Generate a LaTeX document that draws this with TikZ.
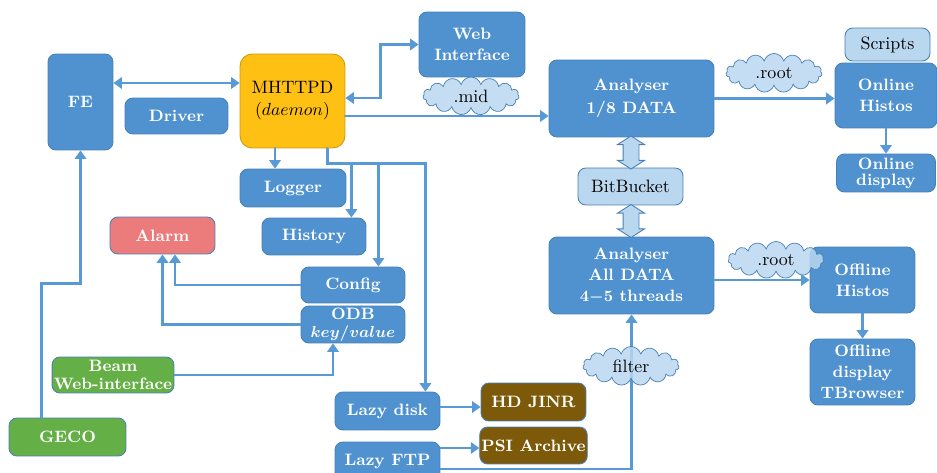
\documentclass[tikz,border=0pt]{standalone}
\usetikzlibrary{arrows.meta,shapes.symbols,shapes.arrows}

\definecolor{boxblue}{RGB}{79,146,207}
\definecolor{boxedge}{RGB}{72,128,182}
\definecolor{linkblue}{RGB}{88,154,214}
\definecolor{paleblue}{RGB}{186,215,240}
\definecolor{daemongold}{RGB}{254,192,18}
\definecolor{alarmred}{RGB}{236,124,124}
\definecolor{beamgreen}{RGB}{100,175,70}
\definecolor{archbrown}{RGB}{125,90,10}

\newcommand\boxtext{\fontsize{9.4}{12}\selectfont\bfseries\boldmath}
\newcommand\cloudtext{\fontsize{10.2}{12.5}\selectfont}

\begin{document}
\begin{tikzpicture}
  [x=0.02cm,y=-0.02cm,line cap=round,
   % Styles
   dims/.style 2 args={minimum width=#1cm,minimum height=#2cm},
   main box/.style={rectangle,rounded corners=4.5pt,fill=boxblue,draw=boxedge,
     line width=0.5pt,text=white,align=center,inner sep=1pt,font=\boxtext},
   light box/.style={main box,fill=paleblue,text=black,font=\cloudtext},
   data cloud/.style={cloud,cloud puffs=15,aspect=3.2,draw=boxedge,line width=0.4pt,
     fill=paleblue,fill opacity=0.85,text opacity=1,text=black,font=\cloudtext,inner sep=0pt},
   fat arrow/.style={double arrow,shape border rotate=90,fill=paleblue,draw=boxedge,
     line width=0.5pt,inner sep=0.15cm,minimum height=0.66cm,
     double arrow head extend=0.11cm,double arrow tip angle=115},
   link/.style={draw=linkblue,line width=1.6pt,>={Triangle[length=1.7mm,width=2.3mm]}}]

  \useasboundingbox (0,0) rectangle (937,473);

  % Front end and daemon
  \node[main box,dims={1.30}{1.92}] (fe) at (80.5,102) {FE};
  \node[main box,dims={2.06}{0.72}] (driver) at (176.5,116) {Driver};
  \node[main box,fill=daemongold,draw=daemongold!80!black,text=black,font=\cloudtext,
    rounded corners=7pt,dims={2.10}{1.88}] (mhttpd) at (292.5,101) {MHTTPD\\$(daemon)$};
  \node[main box,dims={2.12}{0.76}] (logger) at (293,188) {Logger};
  \node[main box,dims={2.08}{0.74}] (history) at (314,236.5) {History};
  \node[main box,fill=alarmred,dims={2.10}{0.74}] (alarm) at (162.5,235.5) {Alarm};
  \node[main box,dims={2.08}{0.72}] (config) at (353,285) {Config};
  \node[main box,dims={2.08}{0.74}] (odb) at (353,324.5) {ODB\\[-2pt]$key/value$};
  \node[main box,fill=beamgreen,dims={2.36}{0.72}] (beam) at (113,375) {Beam\\[-2pt]Web-interface};
  \node[main box,fill=beamgreen,dims={2.34}{0.76}] (geco) at (67.5,437) {GECO};
  \node[main box,dims={2.12}{1.30}] (web) at (472,44.5) {Web\\Interface};

  % Storage
  \node[main box,dims={2.10}{0.76}] (lazydisk) at (387.5,411) {Lazy disk};
  \node[main box,dims={2.10}{0.76}] (lazyftp) at (387.5,461) {Lazy FTP};
  \node[main box,fill=archbrown,dims={2.10}{0.76}] (hdjinr) at (533.5,402) {HD JINR};
  \node[main box,fill=archbrown,dims={2.10}{0.74}] (psi) at (533.5,445.5) {PSI Archive};

  % Analysis
  \node[main box,dims={3.30}{1.54}] (an1) at (631.5,98.5) {Analyser\\[1pt]1/8 DATA};
  \node[light box,dims={2.10}{0.74}] (bitbucket) at (630.5,186.5) {BitBucket};
  \node[main box,dims={3.30}{1.54}] (an2) at (631.5,275.5) {Analyser\\All DATA\\$4{-}5$ threads};
  \node[fat arrow] (bbup) at (631,152.5) {};
  \node[fat arrow] (bbdown) at (631,221) {};
  \node[light box,dims={1.70}{0.66}] (scripts) at (887.5,44.5) {Scripts};
  \node[main box,dims={2.04}{1.30}] (onh) at (886,95.5) {Online\\Histos};
  \node[main box,dims={1.98}{0.76}] (ond) at (886,173) {Online\\[-3pt]display};
  \node[main box,dims={2.10}{1.32}] (offh) at (862.5,280) {Offline\\Histos};
  \node[main box,dims={2.10}{1.32}] (offd) at (862.5,372) {Offline\\display\\TBrowser};

  % Clouds
  \node[data cloud,dims={1.92}{0.76}] (midcloud) at (471,96) {.mid};
  \node[data cloud,dims={1.92}{0.78}] (rootA) at (774,73) {.root};
  \node[data cloud,dims={1.92}{0.74}] (rootB) at (776,260) {.root};

  % Connections
  \draw[link,<->] ([yshift=0.38cm]fe.east) -- ([yshift=0.38cm]fe.east -| mhttpd.west);
  \draw[link,->] (geco.143) -- ++(0,-134) -| (fe.south);
  \coordinate (login) at ([xshift=-0.36cm]logger.north);
  \draw[link,->] (login |- mhttpd.south) -- (login);
  \draw[link,<->] ([yshift=0.06cm]mhttpd.east) -- ++(35,0) |- (web.west);
  \draw[link,->] ([yshift=-0.3cm]mhttpd.east) -- ([yshift=-0.3cm]mhttpd.east -| an1.west);

  \coordinate (histin) at ([xshift=-0.3cm]history.north east);
  \coordinate (cfgin) at ([xshift=-0.54cm]config.north east);
  \draw[link,->] ([xshift=-0.36cm]mhttpd.south east) |- ++(98,15) coordinate (trunk)
    -- ([xshift=-0.3cm]lazydisk.north east);
  \draw[link,->] (histin |- trunk) -- (histin);
  \draw[link,->] (cfgin |- trunk) -- (cfgin);

  \draw[link,->] (config.west) -| ([xshift=0.25cm]alarm.south);
  \draw[link,->] (odb.west) -| (alarm.south);
  \draw[link,->] (beam.east) -| ([xshift=-0.4cm]odb.south);

  \draw[link,->] ([yshift=0.08cm]lazydisk.east) -- ([yshift=0.08cm]lazydisk.east -| hdjinr.west);
  \draw[link,->] ([yshift=0.26cm]lazyftp.east) -- ([yshift=0.26cm]lazyftp.east -| psi.west);
  \draw[link,->] ([yshift=-0.16cm]lazyftp.east) -| (an2.south);

  \draw[link,->] (an1.east) -- (an1.east -| onh.west);
  \draw[link,->] (onh.south) -- (ond.north);
  \draw[link,->] (an2.east |- offh.west) -- (offh.west);
  \draw[link,->] (offh.south) -- (offd.north);

  \node[data cloud,dims={1.92}{0.78}] (filtercloud) at (631,366) {filter};
\end{tikzpicture}
\end{document}
